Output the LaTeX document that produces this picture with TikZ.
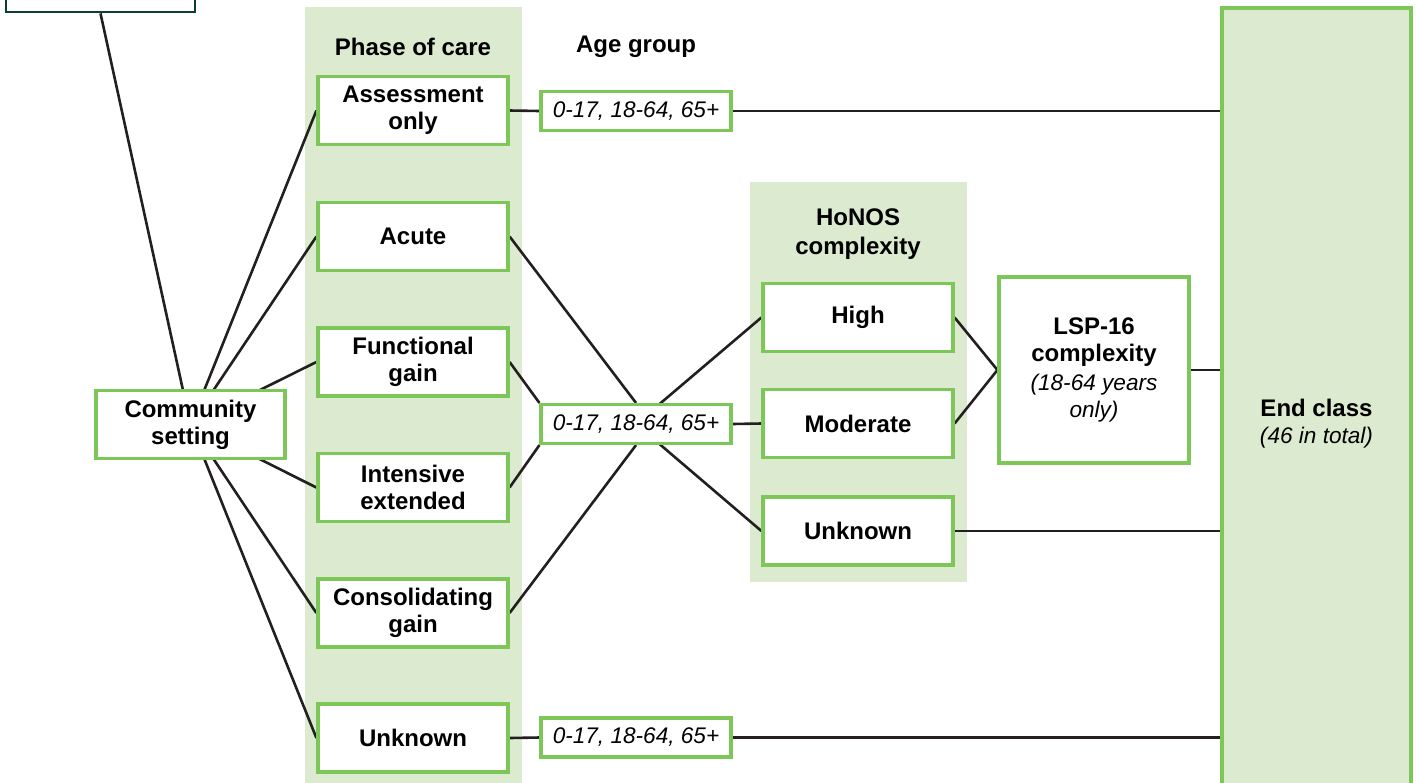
\documentclass[tikz,border=0pt]{standalone}
\usepackage{fontspec}
\setmainfont{Liberation Sans}
\usetikzlibrary{calc}
\definecolor{gborder}{RGB}{125,198,88}
\definecolor{gfill}{RGB}{220,235,207}
\definecolor{dgreen}{RGB}{12,64,44}
\definecolor{linecol}{RGB}{35,31,32}
\pgfdeclarelayer{bg}
\pgfdeclarelayer{lines}
\pgfsetlayers{bg,lines,main}
\newcommand{\itsm}{\normalfont\itshape\fontsize{11.3}{14}\selectfont}
\tikzset{
  box/.style={draw=gborder, line width=1.6pt, fill=white, minimum width=95pt, minimum height=34pt,
    align=center, inner sep=0pt, font=\bfseries\fontsize{12}{13.5}\selectfont},
  agebox/.style={draw=gborder, line width=1.6pt, fill=white, minimum width=95pt, minimum height=19.5pt,
    inner sep=0pt, font=\itshape\fontsize{11.3}{13}\selectfont},
  header/.style={align=center, inner sep=0pt, font=\bfseries\fontsize{12}{14.5}\selectfont},
  conn/.style={draw=linecol, line width=1.3pt},
  bgpanel/.style={fill=gfill, draw=none},
}
\begin{document}
\begin{tikzpicture}[x=0.5pt, y=-0.5pt]
\useasboundingbox (0,0) rectangle (1416,782);
\clip (0,0) rectangle (1416,782);

% background panels
\begin{pgfonlayer}{bg}
\path[bgpanel] (305,7) rectangle (522,800);
\path[bgpanel] (750,182) rectangle (967,582);
\end{pgfonlayer}

% headers
\node[header] (hphase) at (413,47) {Phase of care};
\node[header] (hage) at (636,47) {Age group};
\node[header] (hhonos) at (858,234) {HoNOS\\complexity};

% top-left (cut-off) box
\node[draw=dgreen, line width=1.4pt, fill=white, minimum width=94.5pt, minimum height=31pt, inner sep=0pt] (top) at (100.5,-19) {};

% community
\node[box, minimum width=94.5pt] (comm) at (190.5,424.5) {Community\\setting};

% phase of care
\node[box] (assess) at (413,110.5) {Assessment\\only};
\node[box] (acute) at (413,236.5) {Acute};
\node[box] (func) at (413,362) {Functional\\gain};
\node[box] (inten) at (413,487.5) {Intensive\\extended};
\node[box] (consol) at (413,613) {Consolidating\\gain};
\node[box] (unkp) at (413,738) {Unknown};

% age groups
\node[agebox] (age1) at (636,111) {0-17, 18-64, 65+};
\node[agebox] (age2) at (636,424) {0-17, 18-64, 65+};
\node[agebox] (age3) at (636,737.5) {0-17, 18-64, 65+};

% HoNOS
\node[box] (high) at (858,317.5) {High};
\node[box] (mod) at (858,423.5) {Moderate};
\node[box] (unkh) at (858,531) {Unknown};

% LSP-16
\node[box, minimum height=93pt] (lsp) at (1094,370) {LSP-16\\complexity\\[1pt]\itsm (18-64 years\\\itsm only)};

% End class
\node[draw=gborder, line width=1.6pt, fill=gfill, minimum width=94.5pt, minimum height=416pt, inner sep=0pt, align=center,
  font=\bfseries\fontsize{12}{13.5}\selectfont] (end) at (1316.5,424) {End class\\\itsm (46 in total)};

% connectors
\begin{pgfonlayer}{lines}
\draw[conn] (top.south) -- (comm.center);
\foreach \n in {assess,acute,func,inten,consol,unkp}
  \draw[conn] (comm.center) -- (\n.west);
\draw[conn] (assess.east) -- (age1.west);
\draw[conn] (unkp.east) -- (age3.west);
\draw[conn] (age1.east) -- (age1.east -| end.west);
\draw[conn] (age3.east) -- (age3.east -| end.west);
\draw[conn] (acute.east) -- (age2.north);
\draw[conn] (func.east) -- (age2.north west);
\draw[conn] (inten.east) -- (age2.south west);
\draw[conn] (consol.east) -- (age2.south);
\draw[conn] (age2.center) -- (high.west);
\draw[conn] (age2.east) -- (mod.west);
\draw[conn] (age2.center) -- (unkh.west);
\draw[conn] (high.east) -- (lsp.west);
\draw[conn] (mod.east) -- (lsp.west);
\draw[conn] (lsp.east) -- (lsp.east -| end.west);
\draw[conn] (unkh.east) -- (unkh.east -| end.west);
\end{pgfonlayer}
\end{tikzpicture}
\end{document}
